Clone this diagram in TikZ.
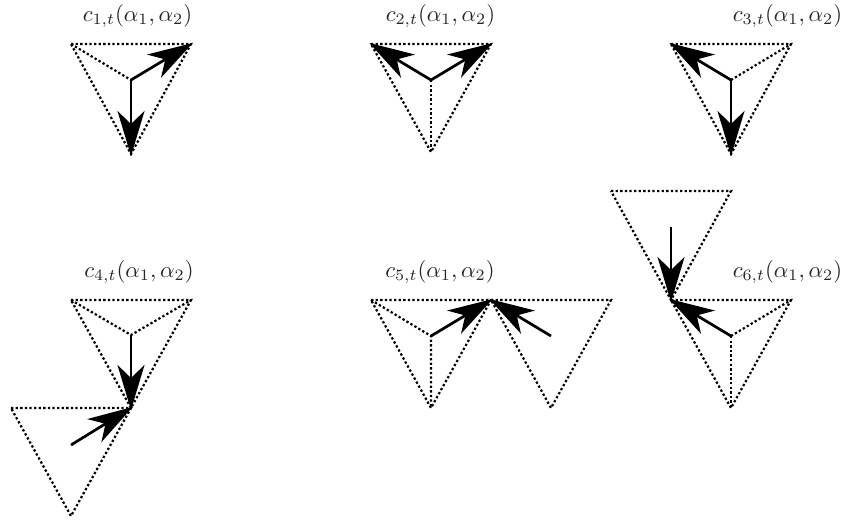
\documentclass[tikz,border=0pt]{standalone}
\usetikzlibrary{arrows.meta}
\tikzset{
  edgeline/.style={line width=2.2pt,dash pattern=on 2.3pt off 2.3pt},
  vec/.style={line width=2.7pt,-{Stealth[length=45pt,width=27pt,inset=13pt]},shorten >=-2pt},
  lab/.style={inner sep=0pt,anchor=base,scale=2.27,text=black!85}
}
\begin{document}
\begin{tikzpicture}[x=1pt,y=-1pt]
\useasboundingbox (0,0) rectangle (843,523);
\coordinate (a1) at (71,44); \coordinate (b1) at (191,44); \coordinate (c1) at (131,154); \coordinate (m1) at (131,80);
\coordinate (a2) at (371,44); \coordinate (b2) at (491,44); \coordinate (c2) at (431,152); \coordinate (m2) at (431,80);
\coordinate (a3) at (671,44); \coordinate (b3) at (791,44); \coordinate (c3) at (731,154); \coordinate (m3) at (731,80);
\coordinate (a4) at (71,300); \coordinate (b4) at (191,300); \coordinate (c4) at (131,408); \coordinate (m4) at (131,335);
\coordinate (a4x) at (11,408); \coordinate (c4x) at (71,516); \coordinate (m4x) at (71,445);
\coordinate (a5) at (371,300); \coordinate (b5) at (491,300); \coordinate (c5) at (431,408); \coordinate (m5) at (431,336);
\coordinate (b5x) at (611,300); \coordinate (c5x) at (551,408); \coordinate (m5x) at (551,336);
\coordinate (a6) at (671,300); \coordinate (b6) at (791,300); \coordinate (c6) at (731,408); \coordinate (m6) at (731,336);
\coordinate (a6x) at (611,191); \coordinate (b6x) at (731,191); \coordinate (m6x) at (671,227);
% dotted triangles
\draw[edgeline] (a1) -- (b1) -- (c1) -- cycle;
\draw[edgeline] (a2) -- (b2) -- (c2) -- cycle;
\draw[edgeline] (a3) -- (b3) -- (c3) -- cycle;
\draw[edgeline] (a4) -- (b4) -- (c4) -- cycle;
\draw[edgeline] (a4x) -- (c4) -- (c4x) -- cycle;
\draw[edgeline] (a5) -- (b5) -- (c5) -- cycle;
\draw[edgeline] (b5) -- (b5x) -- (c5x) -- cycle;
\draw[edgeline] (a6) -- (b6) -- (c6) -- cycle;
\draw[edgeline] (a6x) -- (b6x) -- (a6) -- cycle;
% dotted spokes
\draw[edgeline] (a1) -- (m1);
\draw[edgeline] (m2) -- (c2);
\draw[edgeline] (m3) -- (b3);
\draw[edgeline] (a4) -- (m4) -- (b4);
\draw[edgeline] (a5) -- (m5) -- (c5);
\draw[edgeline] (m6) -- (b6); \draw[edgeline] (m6) -- (c6);
% arrows
\draw[vec] (m1) -- (b1); \draw[vec] (m1) -- (c1);
\draw[vec] (m2) -- (a2); \draw[vec] (m2) -- (b2);
\draw[vec] (m3) -- (a3); \draw[vec] (m3) -- (c3);
\draw[vec] (m4) -- (c4); \draw[vec] (m4x) -- (c4);
\draw[vec] (m5) -- (b5); \draw[vec] (m5x) -- (b5);
\draw[vec] (m6x) -- (a6); \draw[vec] (m6) -- (a6);
% labels
\node[lab] (l1) at (137.5,21) {$c_{1,t}(\alpha_1,\alpha_2)$};
\node[lab] (l2) at (440.5,21) {$c_{2,t}(\alpha_1,\alpha_2)$};
\node[lab] (l3) at (787.5,21) {$c_{3,t}(\alpha_1,\alpha_2)$};
\node[lab] (l4) at (139,277) {$c_{4,t}(\alpha_1,\alpha_2)$};
\node[lab] (l5) at (440,277) {$c_{5,t}(\alpha_1,\alpha_2)$};
\node[lab] (l6) at (787.5,277) {$c_{6,t}(\alpha_1,\alpha_2)$};
\end{tikzpicture}
\end{document}
